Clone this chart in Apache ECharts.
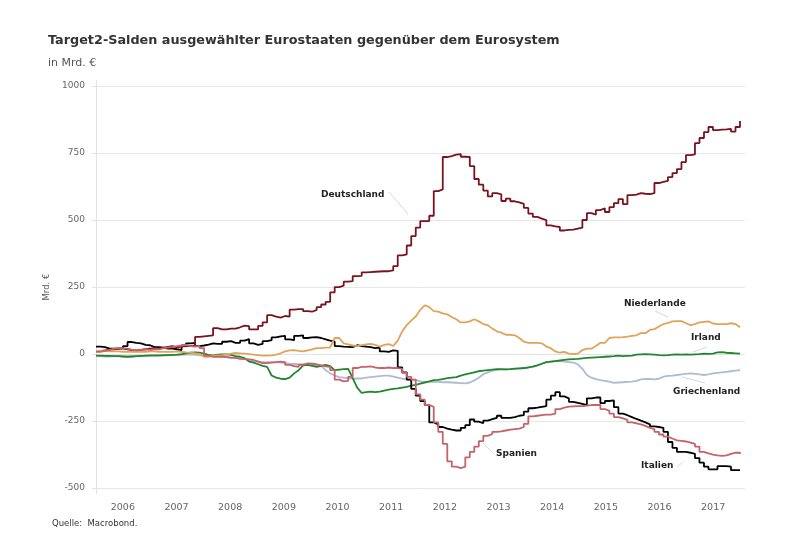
<!DOCTYPE html>
<html>
<head>
<meta charset="utf-8">
<title>Target2-Salden</title>
<script src="https://cdn.jsdelivr.net/npm/echarts@6/dist/echarts.min.js"></script>
<style>
    html, body { margin: 0; padding: 0; background: #fff; }
    #chart { width: 800px; height: 540px; }
</style>
</head>
<body>
<div id="chart"></div>
<script>
(function () {
    'use strict';

    var years = ['2006', '2007', '2008', '2009', '2010', '2011', '2012', '2013', '2014', '2015', '2016', '2017'];
    var yTicks = [-500, -250, 0, 250, 500, 750, 1000];

    // monthly values in Mrd. Euro, one row per year
    var griechenland = [
        -8, -8, -9, -9, -8, -8, -9, -9, -9, -8, -8, -8,
        -7, -7, -7, -6, -5, -5, -4, -3, -2, -2, -3, -5,
        -5, -6, -8, -8, -9, -10, -12, -14, -16, -18, -22, -26,
        -28, -30, -30, -30, -31, -32, -34, -36, -37, -38, -38, -38,
        -40, -42, -45, -60, -72, -80, -86, -88, -90, -92, -91, -91,
        -88, -86, -84, -82, -80, -80, -84, -88, -92, -94, -94, -96,
        -102, -104, -104, -104, -104, -105, -105, -106, -107, -108, -109, -106,
        -98, -88, -75, -68, -62, -60, -58, -57, -56, -55, -54, -53,
        -50, -47, -42, -36, -30, -28, -26, -26, -28, -30, -32, -38,
        -55, -78, -88, -93, -97, -100, -103, -107, -106, -105, -104, -103,
        -100, -94, -93, -93, -94, -92, -84, -81, -80, -78, -76, -74,
        -72, -74, -76, -78, -76, -72, -70, -68, -66, -64, -62, -60
    ];
    var irland = [
        -6, -6, -7, -7, -8, -8, -9, -10, -9, -8, -7, -6,
        -5, -5, -5, -4, -4, -3, -2, 0, 3, 5, 6, 5,
        2, -3, -5, -2, -1, -1, -3, -8, -10, -15, -28, -32,
        -38, -44, -48, -80, -88, -92, -93, -88, -72, -60, -42, -40,
        -44, -48, -44, -40, -45, -60, -58, -56, -55, -90, -125, -145,
        -142, -140, -142, -140, -136, -133, -130, -128, -125, -122, -118, -115,
        -110, -106, -102, -97, -96, -93, -90, -88, -86, -80, -76, -72,
        -68, -64, -62, -60, -58, -56, -56, -57, -56, -54, -53, -52,
        -50, -47, -42, -36, -30, -28, -26, -24, -22, -20, -19, -18,
        -16, -14, -13, -12, -11, -10, -9, -8, -6, -8, -7, -6,
        -2, -1, 0, -1, -2, -4, -5, -4, -2, -1, -2, -1,
        -2, -1, 0, 2, 1, 2, 6, 7, 5, 4, 3, 2
    ];
    var italien = [
        28, 26, 20, 20, 20, 22, 30, 45, 42, 40, 34, 33,
        26, 26, 24, 20, 20, 18, 15, 32, 40, 42, 30, 32,
        35, 40, 38, 38, 46, 48, 42, 42, 50, 56, 40, 34,
        38, 48, 52, 62, 66, 68, 55, 52, 68, 70, 60, 62,
        63, 60, 55, 50, 46, 30, 28, 27, 26, 33, 30, 28,
        26, 22, 24, 10, 8, 14, 12, -50, -68, -95, -130, -155,
        -175, -190, -255, -262, -272, -278, -282, -285, -285, -275, -265, -244,
        -252, -258, -248, -243, -238, -230, -238, -238, -235, -230, -228, -215,
        -202, -200, -197, -194, -170, -155, -142, -158, -165, -178, -182, -186,
        -190, -165, -162, -162, -183, -175, -173, -198, -222, -228, -235, -242,
        -248, -255, -262, -270, -272, -275, -290, -328, -350, -365, -365, -368,
        -372, -388, -405, -420, -430, -430, -418, -418, -420, -433, -433, -433
    ];
    var deutschland = [
        12, 14, 16, 18, 20, 20, 18, 15, 14, 16, 18, 20,
        22, 20, 24, 27, 30, 25, 28, 30, 30, 32, 64, 66,
        68, 70, 97, 92, 92, 95, 95, 100, 106, 104, 92, 92,
        105, 118, 145, 140, 136, 142, 140, 166, 168, 168, 160, 158,
        165, 175, 185, 195, 230, 250, 255, 270, 272, 291, 292, 305,
        306, 307, 308, 309, 309, 312, 328, 368, 372, 405, 440, 472,
        496, 496, 516, 608, 614, 735, 738, 744, 746, 736, 735, 701,
        653, 632, 610, 588, 600, 596, 571, 580, 570, 566, 560, 545,
        524, 512, 505, 500, 480, 476, 474, 461, 463, 464, 468, 472,
        500, 526, 520, 537, 544, 530, 548, 563, 578, 559, 593, 595,
        600, 598, 597, 600, 638, 642, 646, 660, 675, 690, 716, 742,
        745, 787, 806, 828, 847, 835, 837, 838, 840, 830, 847, 869
    ];
    var niederlande = [
        12, 12, 12, 10, 10, 10, 8, 8, 8, 8, 8, 8,
        10, 10, 8, 8, 8, 8, 10, 8, 6, 5, 3, 0,
        -10, -10, -6, -5, -4, -2, 2, 4, 3, 2, 0, -2,
        -4, -6, -6, -5, -2, 3, 10, 14, 15, 12, 10, 14,
        18, 22, 22, 24, 25, 60, 60, 40, 36, 32, 30, 33,
        36, 38, 34, 28, 34, 37, 30, 50, 85, 108, 125, 140,
        165, 182, 175, 160, 158, 152, 148, 138, 130, 118, 118, 122,
        130, 122, 112, 108, 95, 85, 80, 72, 72, 70, 60, 46,
        42, 42, 42, 40, 28, 22, 10, 5, 8, 2, 0, 2,
        15, 20, 20, 30, 42, 42, 60, 62, 62, 63, 65, 68,
        70, 78, 78, 90, 93, 103, 112, 116, 122, 123, 123, 115,
        108, 112, 118, 120, 122, 114, 112, 112, 112, 115, 112, 100
    ];
    var spanien = [
        8, 12, 16, 20, 22, 22, 20, 16, 14, 16, 18, 16,
        18, 18, 22, 24, 26, 30, 32, 34, 30, 28, 30, 22,
        -6, -10, -10, -10, -11, -14, -14, -18, -19, -20, -22, -28,
        -34, -34, -32, -30, -28, -30, -40, -45, -48, -40, -35, -36,
        -38, -42, -46, -48, -60, -95, -102, -100, -85, -52, -48, -48,
        -46, -50, -52, -52, -50, -52, -52, -55, -70, -85, -95, -150,
        -170, -190, -197, -255, -290, -335, -400, -420, -425, -420, -385, -365,
        -345, -325, -305, -298, -290, -288, -285, -282, -280, -278, -272, -260,
        -232, -230, -228, -226, -226, -222, -205, -200, -196, -195, -194, -194,
        -192, -190, -190, -190, -205, -212, -222, -235, -240, -245, -255, -258,
        -262, -268, -275, -280, -290, -300, -308, -315, -322, -324, -326, -330,
        -335, -345, -365, -370, -375, -378, -380, -378, -372, -368, -368, -373
    ];

    var months = [];
    for (var y = 0; y < years.length; y++) {
        for (var m = 1; m <= 12; m++) {
            months.push(years[y] + '-' + m);
        }
    }

    function lineSeries(name, values, color, step) {
        return {
            name: name,
            type: 'line',
            step: step,
            xAxisIndex: 2,
            yAxisIndex: 0,
            data: values,
            showSymbol: false,
            silent: true,
            lineStyle: { color: color, width: 1.8 }
        };
    }

    // series name, leader line from/to, label position
    function seriesLabel(text, x, y, x1, y1, x2, y2) {
        return [{
            type: 'line',
            shape: { x1: x1, y1: y1, x2: x2, y2: y2 },
            style: { stroke: '#d5d8dc', lineWidth: 1 }
        }, {
            type: 'text',
            x: x,
            y: y,
            style: {
                text: text,
                fill: '#222',
                font: 'bold 9px "DejaVu Sans"',
                textVerticalAlign: 'middle'
            }
        }];
    }

    var labels = [].concat(
        seriesLabel('Deutschland', 321, 195, 389, 192, 408, 214),
        seriesLabel('Niederlande', 624, 304, 655, 311, 668, 317),
        seriesLabel('Irland', 691, 338, 693, 352, 707, 347),
        seriesLabel('Griechenland', 673, 392, 682, 377, 705, 383),
        seriesLabel('Spanien', 496, 454, 483, 443, 493, 453),
        seriesLabel('Italien', 641, 466, 677, 467, 683, 462)
    );

    var myChart = echarts.init(document.getElementById('chart'), null, { renderer: 'canvas' });

    myChart.setOption({
        animation: false,
        backgroundColor: '#fff',
        title: [{
            text: 'Target2-Salden ausgewählter Eurostaaten gegenüber dem Eurosystem',
            left: 43,
            top: 29,
            textStyle: { fontFamily: 'DejaVu Sans', fontSize: 12.8, fontWeight: 'bold', color: '#333' }
        }, {
            text: 'in Mrd. €',
            left: 43,
            top: 53,
            textStyle: { fontFamily: 'DejaVu Sans', fontSize: 11, fontWeight: 'normal', color: '#555' }
        }, {
            text: 'Quelle:  Macrobond.',
            left: 47,
            top: 514,
            textStyle: { fontFamily: 'DejaVu Sans', fontSize: 8.5, fontWeight: 'normal', color: '#333' }
        }],
        // gridlines run a little past the last year tick, so they get their own grid
        grid: [
            { left: 96, right: 60, top: 80.6, bottom: 46.5 },
            { left: 96, right: 55, top: 80.6, bottom: 46.5 }
        ],
        xAxis: [{
            type: 'category',
            gridIndex: 0,
            data: years,
            boundaryGap: true,
            axisLine: { lineStyle: { color: '#e2e2e2' } },
            axisTick: { length: 6, lineStyle: { color: '#555' } },
            axisLabel: { fontFamily: 'DejaVu Sans', fontSize: 9.5, color: '#666', margin: 9 }
        }, {
            type: 'category',
            gridIndex: 1,
            data: years,
            show: false
        }, {
            type: 'category',
            gridIndex: 0,
            data: months,
            boundaryGap: false,
            show: false
        }],
        yAxis: [{
            type: 'value',
            gridIndex: 0,
            min: -520,
            max: 1020,
            name: 'Mrd. €',
            nameLocation: 'middle',
            nameGap: 24,
            nameTextStyle: { fontFamily: 'DejaVu Sans', fontSize: 8.5, color: '#555' },
            axisLine: { show: true, lineStyle: { color: '#e2e2e2' } },
            axisTick: { show: true, customValues: yTicks, length: 4, lineStyle: { color: '#e2e2e2' } },
            axisLabel: {
                customValues: yTicks,
                formatter: function (value) { return String(value); },
                fontFamily: 'DejaVu Sans',
                fontSize: 9,
                color: '#666',
                margin: 11
            },
            splitLine: { show: false }
        }, {
            type: 'value',
            gridIndex: 1,
            min: -520,
            max: 1020,
            axisLine: { show: false },
            axisTick: { show: false, customValues: yTicks },
            axisLabel: { show: false, customValues: yTicks },
            splitLine: { show: true, lineStyle: { color: '#e6e6e6', width: 1 } }
        }],
        series: [
            lineSeries('Griechenland', griechenland, '#aebccf', false),
            lineSeries('Irland', irland, '#23852e', false),
            lineSeries('Italien', italien, '#000000', 'end'),
            lineSeries('Deutschland', deutschland, '#7a1320', 'end'),
            lineSeries('Niederlande', niederlande, '#e0a458', false),
            lineSeries('Spanien', spanien, '#c5636c', 'end')
        ],
        graphic: labels
    });
}());
</script>
</body>
</html>
